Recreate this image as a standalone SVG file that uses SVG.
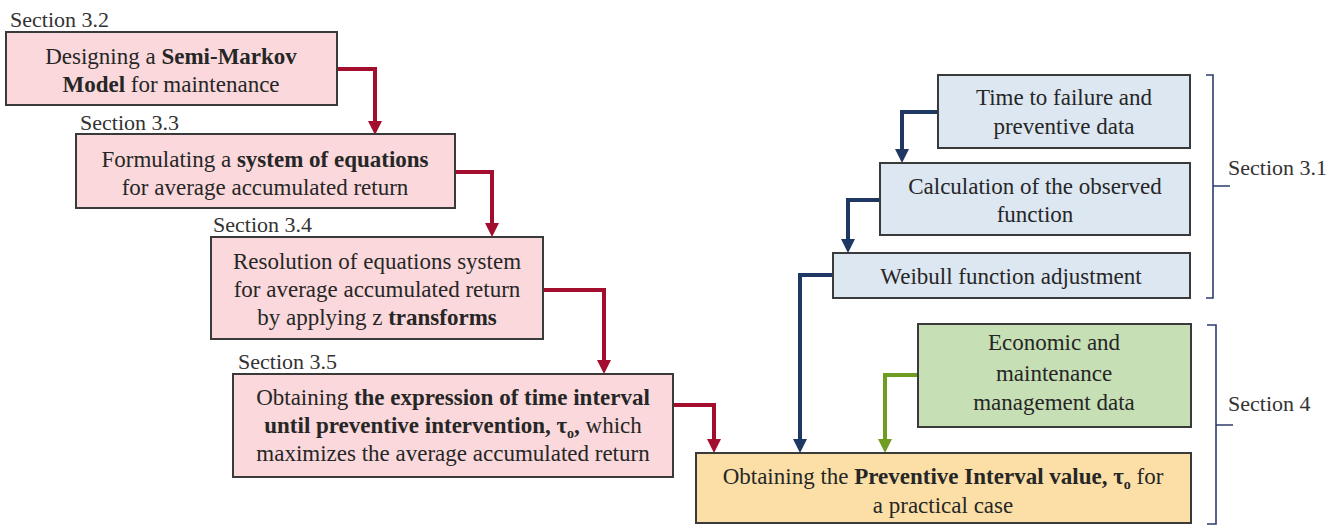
<svg xmlns="http://www.w3.org/2000/svg" width="1340" height="526" viewBox="0 0 1340 526">
<style>
text{font-family:"Liberation Serif","Times New Roman",serif;fill:#262626}
.t{font-size:23px;text-anchor:middle}
.s{font-size:22px;fill:#333}
.b{font-weight:bold}
.box{stroke:#3a3a3a;stroke-width:2}
.pink{fill:#fad8db}
.blue{fill:#dde7f2}
.green{fill:#c7dfb5}
.yel{fill:#fbdfa6}
.cr{fill:none;stroke:#a30d2e;stroke-width:4}
.cb{fill:none;stroke:#1f3763;stroke-width:4}
.cg{fill:none;stroke:#6f9d22;stroke-width:4}
.br{fill:none;stroke:#2e3c6e;stroke-width:1.6}
</style>
<defs>
<marker id="mr" viewBox="0 0 10 10" refX="0" refY="5" markerWidth="14" markerHeight="16" orient="auto" markerUnits="userSpaceOnUse"><path d="M0,0L10,5L0,10z" fill="#a30d2e"/></marker>
<marker id="mb" viewBox="0 0 10 10" refX="0" refY="5" markerWidth="14" markerHeight="16" orient="auto" markerUnits="userSpaceOnUse"><path d="M0,0L10,5L0,10z" fill="#1f3763"/></marker>
<marker id="mg" viewBox="0 0 10 10" refX="0" refY="5" markerWidth="14" markerHeight="16" orient="auto" markerUnits="userSpaceOnUse"><path d="M0,0L10,5L0,10z" fill="#6f9d22"/></marker>
</defs>
<g id="connectors">
<path class="cr" marker-end="url(#mr)" d="M337,69H375V121"/>
<path class="cr" marker-end="url(#mr)" d="M455,172H492V223"/>
<path class="cr" marker-end="url(#mr)" d="M543,290H604V360"/>
<path class="cr" marker-end="url(#mr)" d="M673,405H714V439"/>
<path class="cb" marker-end="url(#mb)" d="M938,112H902V149"/>
<path class="cb" marker-end="url(#mb)" d="M880,200H848V239"/>
<path class="cb" marker-end="url(#mb)" d="M833,275H800V439"/>
<path class="cg" marker-end="url(#mg)" d="M918,375H885V439"/>
</g>
<g id="n1">
<text class="s" x="10" y="27">Section 3.2</text>
<rect class="box pink" x="6" y="32" width="331" height="73"/>
<text class="t" x="171" y="64">Designing a <tspan class="b">Semi-Markov</tspan></text>
<text class="t" x="171" y="92"><tspan class="b">Model</tspan> for maintenance</text>
</g>
<g id="n2">
<text class="s" x="80" y="130">Section 3.3</text>
<rect class="box pink" x="76" y="134" width="379" height="74"/>
<text class="t" x="265" y="167">Formulating a <tspan class="b">system of equations</tspan></text>
<text class="t" x="265" y="195">for average accumulated return</text>
</g>
<g id="n3">
<text class="s" x="213" y="232">Section 3.4</text>
<rect class="box pink" x="211" y="237" width="332" height="102"/>
<text class="t" x="377" y="269">Resolution of equations system</text>
<text class="t" x="377" y="297">for average accumulated return</text>
<text class="t" x="377" y="325">by applying z <tspan class="b">transforms</tspan></text>
</g>
<g id="n4">
<text class="s" x="238" y="369">Section 3.5</text>
<rect class="box pink" x="233" y="374" width="440" height="103"/>
<text class="t" x="453" y="405">Obtaining <tspan class="b">the expression of time interval</tspan></text>
<text class="t" x="453" y="433"><tspan class="b">until preventive intervention, τ<tspan font-size="14" dy="5">o</tspan><tspan dy="-5">,</tspan></tspan> which</text>
<text class="t" x="453" y="461">maximizes the average accumulated return</text>
</g>
<g id="n5">
<rect class="box blue" x="938" y="75" width="252" height="73"/>
<text class="t" x="1064" y="105">Time to failure and</text>
<text class="t" x="1064" y="134">preventive data</text>
</g>
<g id="n6">
<rect class="box blue" x="880" y="163" width="310" height="72"/>
<text class="t" x="1035" y="194">Calculation of the observed</text>
<text class="t" x="1035" y="222">function</text>
</g>
<g id="n7">
<rect class="box blue" x="833" y="253" width="357" height="45"/>
<text class="t" x="1011" y="284">Weibull function adjustment</text>
</g>
<g id="n8">
<rect class="box green" x="918" y="324" width="273" height="103"/>
<text class="t" x="1054" y="350">Economic and</text>
<text class="t" x="1054" y="381">maintenance</text>
<text class="t" x="1054" y="410">management data</text>
</g>
<g id="n9">
<rect class="box yel" x="696" y="453" width="495" height="70"/>
<text class="t" x="943" y="484">Obtaining the <tspan class="b">Preventive Interval value, τ<tspan font-size="14" dy="5">o</tspan></tspan><tspan dy="-5"> for</tspan></text>
<text class="t" x="943" y="513">a practical case</text>
</g>
<g id="brace31">
<path class="br" d="M1206,75H1213V298H1206M1213,186H1230"/>
<text class="s" x="1228" y="175">Section 3.1</text>
</g>
<g id="brace4">
<path class="br" d="M1207,325H1216V524H1207M1216,425H1233"/>
<text class="s" x="1228" y="411">Section 4</text>
</g>
</svg>
